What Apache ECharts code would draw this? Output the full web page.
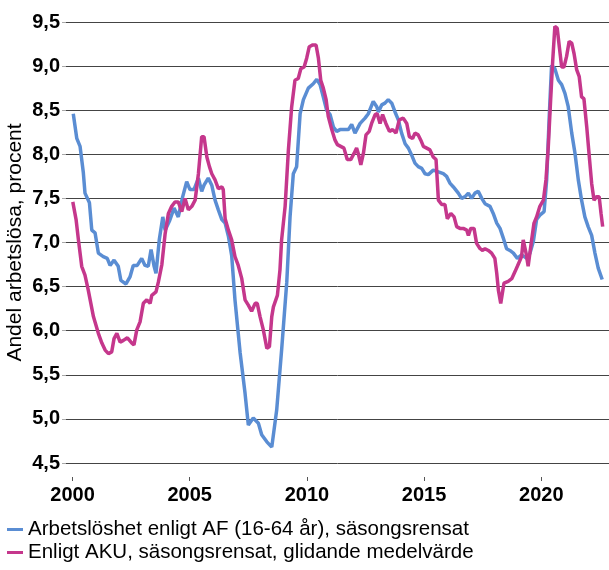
<!DOCTYPE html>
<html>
<head>
<meta charset="utf-8">
<script src="https://cdn.jsdelivr.net/npm/echarts@6/dist/echarts.min.js"></script>
<style>
  html, body { margin: 0; padding: 0; background: #fff; }
  #chart { width: 609px; height: 570px; }
</style>
</head>
<body>
<div id="chart"></div>
<script>
// Arbetslöshet enligt AF (16-64 år), säsongsrensat
var afYears = [2000.03, 2000.18, 2000.32, 2000.46, 2000.53, 2000.72, 2000.82, 2000.96, 2001.10, 2001.31,
  2001.48, 2001.60, 2001.77, 2001.95, 2002.06, 2002.28, 2002.45, 2002.59, 2002.76, 2002.95,
  2003.09, 2003.23, 2003.35, 2003.48, 2003.56, 2003.70, 2003.85, 2003.95, 2004.13, 2004.33,
  2004.51, 2004.70, 2004.87, 2005.01, 2005.18, 2005.37, 2005.51, 2005.61, 2005.79, 2005.94,
  2006.08, 2006.22, 2006.37, 2006.51, 2006.65, 2006.79, 2006.93, 2007.15, 2007.36, 2007.50,
  2007.71, 2007.93, 2008.07, 2008.29, 2008.50, 2008.71, 2008.92, 2009.14, 2009.28, 2009.42,
  2009.56, 2009.71, 2009.85, 2010.06, 2010.27, 2010.42, 2010.56, 2010.70, 2010.84, 2010.99,
  2011.13, 2011.27, 2011.41, 2011.63, 2011.77, 2011.91, 2012.05, 2012.27, 2012.48, 2012.62,
  2012.83, 2012.98, 2013.05, 2013.19, 2013.33, 2013.47, 2013.62, 2013.76, 2013.90, 2014.04,
  2014.19, 2014.33, 2014.47, 2014.61, 2014.75, 2014.90, 2015.04, 2015.18, 2015.39, 2015.61,
  2015.82, 2015.96, 2016.11, 2016.25, 2016.46, 2016.60, 2016.75, 2016.89, 2017.03, 2017.17,
  2017.31, 2017.46, 2017.60, 2017.81, 2017.95, 2018.10, 2018.24, 2018.38, 2018.52, 2018.66,
  2018.81, 2018.98, 2019.16, 2019.38, 2019.52, 2019.66, 2019.80, 2019.94, 2020.12, 2020.23,
  2020.34, 2020.44, 2020.58, 2020.73, 2020.87, 2021.01, 2021.15, 2021.30, 2021.44, 2021.58,
  2021.72, 2021.86, 2022.00, 2022.15, 2022.29, 2022.43, 2022.60];
var afValues = [8.46, 8.18, 8.09, 7.79, 7.56, 7.45, 7.14, 7.11, 6.88, 6.84,
  6.82, 6.74, 6.80, 6.73, 6.57, 6.53, 6.61, 6.74, 6.74, 6.82,
  6.74, 6.73, 6.92, 6.73, 6.65, 7.03, 7.29, 7.14, 7.24, 7.39,
  7.29, 7.52, 7.69, 7.60, 7.60, 7.73, 7.58, 7.65, 7.73, 7.65,
  7.48, 7.37, 7.26, 7.22, 7.07, 6.85, 6.35, 5.75, 5.29, 4.93,
  5.01, 4.95, 4.82, 4.74, 4.68, 5.10, 5.78, 6.55, 7.29, 7.78,
  7.86, 8.46, 8.62, 8.75, 8.80, 8.85, 8.79, 8.65, 8.50, 8.45,
  8.31, 8.26, 8.28, 8.28, 8.28, 8.34, 8.24, 8.35, 8.41, 8.46,
  8.60, 8.54, 8.48, 8.56, 8.58, 8.62, 8.58, 8.48, 8.39, 8.24,
  8.12, 8.07, 7.99, 7.90, 7.86, 7.84, 7.78, 7.77, 7.82, 7.80,
  7.78, 7.75, 7.67, 7.63, 7.56, 7.50, 7.52, 7.56, 7.50, 7.56,
  7.58, 7.50, 7.44, 7.41, 7.33, 7.22, 7.16, 7.05, 6.93, 6.91,
  6.88, 6.82, 6.86, 6.82, 6.88, 7.01, 7.26, 7.31, 7.35, 7.71,
  8.43, 9.01, 8.97, 8.84, 8.79, 8.69, 8.54, 8.24, 8.01, 7.71,
  7.48, 7.29, 7.18, 7.08, 6.88, 6.71, 6.58];

// Enligt AKU, säsongsrensat, glidande medelvärde
var akuYears = [2000.01, 2000.15, 2000.25, 2000.39, 2000.53, 2000.67, 2000.89, 2001.10, 2001.25, 2001.39,
  2001.53, 2001.67, 2001.77, 2001.89, 2002.03, 2002.17, 2002.34, 2002.53, 2002.62, 2002.74,
  2002.88, 2003.02, 2003.17, 2003.31, 2003.38, 2003.56, 2003.66, 2003.81, 2003.95, 2004.09,
  2004.23, 2004.37, 2004.51, 2004.66, 2004.80, 2004.94, 2005.09, 2005.23, 2005.37, 2005.51,
  2005.61, 2005.73, 2005.84, 2005.94, 2006.08, 2006.22, 2006.37, 2006.43, 2006.51, 2006.65,
  2006.79, 2006.93, 2007.07, 2007.22, 2007.36, 2007.50, 2007.64, 2007.79, 2007.88, 2008.00,
  2008.14, 2008.29, 2008.40, 2008.50, 2008.57, 2008.74, 2008.85, 2008.92, 2009.07, 2009.21,
  2009.35, 2009.49, 2009.63, 2009.74, 2009.88, 2009.99, 2010.10, 2010.25, 2010.39, 2010.49,
  2010.59, 2010.70, 2010.82, 2010.91, 2011.06, 2011.20, 2011.30, 2011.44, 2011.58, 2011.72,
  2011.87, 2012.01, 2012.12, 2012.19, 2012.30, 2012.41, 2012.52, 2012.66, 2012.76, 2012.91,
  2013.00, 2013.12, 2013.23, 2013.37, 2013.52, 2013.66, 2013.80, 2013.94, 2014.11, 2014.26,
  2014.37, 2014.51, 2014.61, 2014.75, 2014.86, 2014.97, 2015.11, 2015.25, 2015.39, 2015.51,
  2015.61, 2015.75, 2015.89, 2015.99, 2016.14, 2016.28, 2016.39, 2016.53, 2016.67, 2016.82,
  2016.89, 2016.99, 2017.13, 2017.24, 2017.39, 2017.50, 2017.60, 2017.74, 2017.88, 2018.02,
  2018.10, 2018.17, 2018.27, 2018.41, 2018.59, 2018.74, 2018.88, 2018.98, 2019.16, 2019.23,
  2019.35, 2019.44, 2019.59, 2019.69, 2019.80, 2019.94, 2020.09, 2020.20, 2020.30, 2020.40,
  2020.49, 2020.58, 2020.68, 2020.77, 2020.87, 2020.97, 2021.08, 2021.19, 2021.30, 2021.40,
  2021.51, 2021.62, 2021.72, 2021.82, 2021.94, 2022.05, 2022.15, 2022.25, 2022.36, 2022.47,
  2022.55, 2022.62];
var akuValues = [7.46, 7.26, 7.03, 6.73, 6.63, 6.46, 6.16, 5.97, 5.86, 5.78,
  5.74, 5.76, 5.91, 5.97, 5.87, 5.89, 5.92, 5.86, 5.84, 6.01,
  6.10, 6.31, 6.35, 6.31, 6.40, 6.44, 6.55, 6.75, 7.10, 7.33,
  7.41, 7.46, 7.46, 7.35, 7.50, 7.37, 7.41, 7.48, 7.78, 8.20,
  8.20, 7.97, 7.86, 7.78, 7.71, 7.61, 7.63, 7.60, 7.27, 7.14,
  7.03, 6.84, 6.74, 6.59, 6.35, 6.29, 6.22, 6.31, 6.31, 6.16,
  6.01, 5.80, 5.82, 6.16, 6.27, 6.40, 6.69, 7.03, 7.41, 8.05,
  8.54, 8.84, 8.86, 8.97, 8.99, 9.09, 9.22, 9.24, 9.24, 9.09,
  8.84, 8.75, 8.62, 8.43, 8.28, 8.16, 8.11, 8.09, 8.07, 7.94,
  7.94, 8.01, 8.07, 8.01, 7.88, 8.01, 8.22, 8.26, 8.35, 8.45,
  8.46, 8.35, 8.45, 8.35, 8.26, 8.28, 8.24, 8.39, 8.41, 8.35,
  8.20, 8.18, 8.24, 8.22, 8.16, 8.09, 8.07, 8.05, 7.97, 7.94,
  7.48, 7.43, 7.43, 7.27, 7.33, 7.29, 7.18, 7.16, 7.16, 7.14,
  7.08, 7.16, 7.16, 6.99, 6.93, 6.91, 6.93, 6.91, 6.88, 6.82,
  6.65, 6.46, 6.31, 6.54, 6.56, 6.59, 6.67, 6.73, 6.84, 7.03,
  6.88, 6.73, 7.03, 7.22, 7.29, 7.41, 7.48, 7.71, 8.09, 8.62,
  9.07, 9.45, 9.43, 9.22, 8.99, 8.99, 9.11, 9.28, 9.26, 9.14,
  8.96, 8.88, 8.65, 8.63, 8.31, 7.97, 7.67, 7.48, 7.52, 7.52,
  7.33, 7.18];

var yearTicks = [2000, 2005, 2010, 2015, 2020];
var seriesNames = ['Arbetslöshet enligt AF (16-64 år), säsongsrensat',
  'Enligt AKU, säsongsrensat, glidande medelvärde'];

function pairs (xs, ys) {
  return xs.map(function (x, i) { return [x, ys[i]] })
}

var font = "'Liberation Sans', Arial, sans-serif"
var myChart = echarts.init(document.getElementById('chart'))
myChart.setOption({
  animation: false,
  grid: { left: 66, right: 0, top: 22, bottom: 107, outerBoundsMode: 'none' },
  legend: {
    orient: 'vertical',
    left: 7,
    top: 518,
    padding: 0,
    icon: 'rect',
    itemWidth: 16,
    itemHeight: 3,
    itemGap: 0,
    textStyle: { fontFamily: font, fontSize: 20.5, color: '#000', lineHeight: 23 },
    data: seriesNames
  },
  xAxis: {
    type: 'value',
    min: 1999.72,
    max: 2022.89,
    offset: 14,
    axisLine: { show: false },
    splitLine: { show: false },
    axisTick: {
      show: true,
      customValues: yearTicks,
      length: 4,
      lineStyle: { color: '#555' }
    },
    axisLabel: {
      customValues: yearTicks,
      margin: 8,
      fontFamily: font,
      fontSize: 20,
      fontWeight: 'bold',
      color: '#000',
      formatter: function (v) { return String(v) }
    }
  },
  yAxis: {
    type: 'value',
    min: 4.5,
    max: 9.5,
    interval: 0.5,
    name: 'Andel arbetslösa, procent',
    nameLocation: 'middle',
    nameGap: 40,
    nameMoveOverlap: false,
    nameTextStyle: { fontFamily: font, fontSize: 21, color: '#000' },
    axisLine: { show: false },
    axisTick: { show: true, length: 4, lineStyle: { color: '#aaa' } },
    axisLabel: {
      margin: 6,
      fontFamily: font,
      fontSize: 20,
      fontWeight: 'bold',
      color: '#000',
      formatter: function (v) { return v.toFixed(1).replace('.', ',') }
    },
    splitLine: { lineStyle: { color: '#444', width: 1 } }
  },
  series: [
    {
      name: seriesNames[0],
      type: 'line',
      showSymbol: false,
      lineStyle: { color: '#5a8dd3', width: 3.5 },
      itemStyle: { color: '#5a8dd3' },
      data: pairs(afYears, afValues)
    },
    {
      name: seriesNames[1],
      type: 'line',
      showSymbol: false,
      lineStyle: { color: '#c5378c', width: 3.5 },
      itemStyle: { color: '#c5378c' },
      data: pairs(akuYears, akuValues)
    }
  ]
})
</script>
</body>
</html>
